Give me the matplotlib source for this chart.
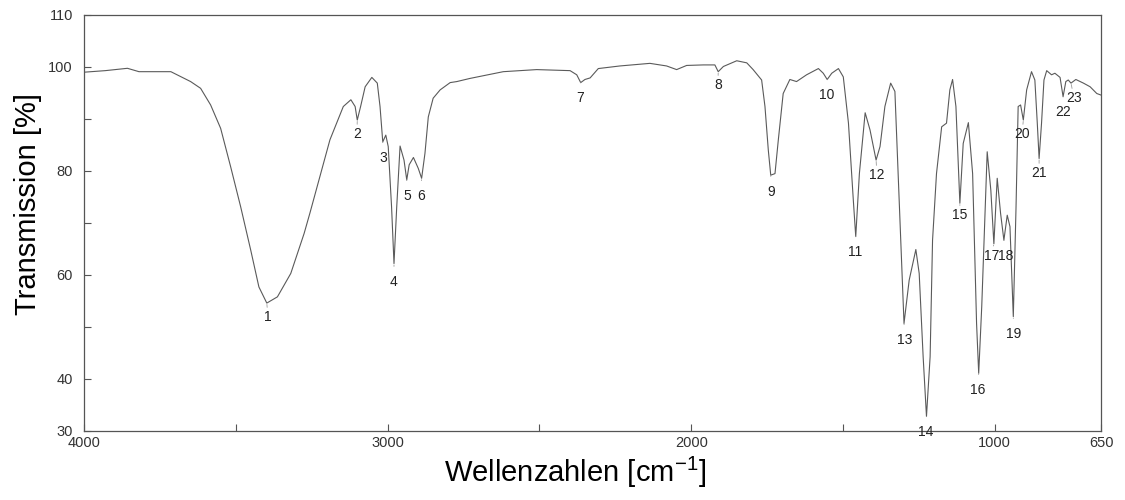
import numpy as np
import matplotlib
matplotlib.use('Agg')
import matplotlib.pyplot as plt

# IR spectrum (wavenumber in cm-1, transmission in %)
wavenumber = [4000, 3930, 3857, 3819, 3714, 3649, 3616, 3583, 3550, 3517,
              3484, 3451, 3424, 3398, 3363, 3319, 3275, 3256, 3232, 3190,
              3146, 3121, 3107, 3100, 3089, 3074, 3052, 3034, 3025, 3016,
              3006, 2998, 2987, 2979, 2970, 2959, 2946, 2937, 2929, 2915,
              2899, 2888, 2877, 2866, 2850, 2827, 2794, 2772, 2729, 2619,
              2509, 2399, 2377, 2364, 2350, 2333, 2306, 2235, 2136, 2081,
              2048, 2015, 1960, 1922, 1911, 1894, 1850, 1817, 1796, 1768,
              1757, 1746, 1738, 1724, 1713, 1697, 1675, 1653, 1620, 1581,
              1565, 1552, 1537, 1515, 1499, 1482, 1466, 1458, 1446, 1427,
              1411, 1391, 1378, 1362, 1343, 1329, 1312, 1299, 1282, 1260,
              1249, 1236, 1225, 1213, 1205, 1192, 1175, 1159, 1148, 1139,
              1128, 1115, 1104, 1087, 1073, 1060, 1053, 1043, 1025, 1013,
              1003, 992, 981, 970, 959, 950, 939, 930, 923, 915,
              906, 895, 879, 868, 860, 854, 846, 838, 829, 813,
              802, 785, 775, 766, 758, 749, 733, 708, 686, 664, 650]
transmission = [99.0, 99.3, 99.75, 99.1, 99.1, 97.2, 95.9, 92.7, 88.2, 80.8,
                73.1, 64.8, 57.7, 54.6, 55.8, 60.3, 68.0, 71.9, 77.0, 86.0,
                92.4, 93.7, 92.4, 89.8, 92.4, 96.2, 98.0, 96.9, 92.4, 85.6,
                86.9, 84.7, 73.1, 62.2, 73.1, 84.8, 82.1, 78.3, 81.2, 82.6,
                80.5, 78.6, 83.4, 90.4, 94.0, 95.6, 97.0, 97.2, 97.8, 99.1,
                99.5, 99.3, 98.5, 97.0, 97.6, 97.9, 99.7, 100.2, 100.7, 100.2,
                99.5, 100.3, 100.4, 100.4, 99.1, 100.1, 101.2, 100.8, 99.5, 97.5,
                92.4, 84.0, 79.2, 79.5, 86.0, 94.9, 97.6, 97.2, 98.5, 99.7,
                98.8, 97.6, 98.8, 99.7, 98.1, 89.2, 74.4, 67.4, 79.5, 91.2,
                87.9, 82.1, 84.7, 92.4, 96.9, 95.3, 70.0, 50.7, 59.0, 64.9,
                60.3, 44.3, 32.8, 44.3, 66.7, 79.5, 88.5, 89.2, 95.6, 97.6,
                92.4, 73.8, 85.3, 89.3, 79.5, 50.7, 41.1, 53.9, 83.7, 76.3,
                66.0, 78.6, 71.9, 66.7, 71.5, 69.3, 52.0, 73.1, 92.4, 92.7,
                89.8, 95.6, 99.1, 97.5, 89.2, 82.4, 89.2, 97.5, 99.3, 98.5,
                98.8, 98.0, 94.3, 97.2, 97.5, 96.9, 97.6, 96.9, 96.2, 94.9, 94.6]

# Numbered bands: minimum of each band and where its number is written
peak_numbers = [str(i) for i in range(1, 24)]
peak_wn = [3398, 3100, 3016, 2979, 2937, 2888, 2364, 1911, 1738, 1552, 1458, 1391,
           1299, 1225, 1115, 1053, 1003, 970, 939, 906, 854, 775, 749]
peak_t = [54.6, 89.8, 85.6, 62.2, 78.3, 78.6, 97.0, 99.1, 79.2, 97.6, 67.4, 82.1,
          50.7, 32.8, 73.8, 41.1, 66.0, 66.7, 52.0, 89.8, 82.4, 94.3, 96.9]
label_wn = [3394, 3101, 3015, 2979, 2936, 2890, 2366, 1912, 1737, 1553, 1460, 1388,
            1296, 1227, 1115, 1055, 1010, 963, 938, 910, 854, 775, 739]
label_t = [51.9, 87.1, 82.5, 58.7, 75.2, 75.2, 94.0, 96.5, 76.0, 94.6, 64.4, 79.2,
           47.5, 29.8, 71.5, 37.9, 63.7, 63.7, 48.7, 87.1, 79.6, 91.3, 94.0]

x_major = [4000, 3000, 2000, 1000, 650]
x_minor = [3500, 2500, 1500]
y_major = [30, 40, 60, 80, 100, 110]
y_minor = [50, 70, 90]


def main():
    plt.rcParams['font.family'] = ['Liberation Sans', 'DejaVu Sans']
    plt.rcParams['mathtext.fontset'] = 'custom'
    plt.rcParams['mathtext.rm'] = 'Liberation Sans'

    fig = plt.figure(figsize=(11.25, 5.0), dpi=100)
    ax = fig.add_axes([0.0747, 0.138, 0.904, 0.832])

    ax.plot(wavenumber, transmission, color='#5a5a5a', linewidth=0.8)

    # Band numbers with a short leader line down from each minimum
    for name, px, py, lx, ly in zip(peak_numbers, peak_wn, peak_t, label_wn, label_t):
        ax.annotate(name, xy=(px, py), xytext=(lx, ly), ha='center', va='center',
                    fontsize=10, color='#222222', annotation_clip=False,
                    arrowprops=dict(arrowstyle='-', color='#9a9a9a', lw=0.6,
                                    shrinkA=4, shrinkB=1))

    ax.set_xlim(4000, 650)
    ax.set_ylim(30, 110)
    ax.set_xticks(x_major)
    ax.set_xticks(x_minor, minor=True)
    ax.set_yticks(y_major)
    ax.set_yticks(y_minor, minor=True)
    ax.tick_params(which='both', direction='in', length=5, width=0.8,
                   color='#555555', labelsize=10.5, labelcolor='#333333')
    ax.tick_params(axis='y', pad=8)
    for spine in ax.spines.values():
        spine.set_color('#555555')
        spine.set_linewidth(0.9)

    ax.set_xlabel(r'Wellenzahlen [cm$^{\mathrm{-1}}$]', fontsize=21)
    ax.set_ylabel('Transmission [%]', fontsize=21)
    # the scan has both titles a little off the axes centre
    ax.xaxis.set_label_coords(0.483, -0.058)
    ax.yaxis.set_label_coords(-0.041, 0.545)

    fig.savefig('out.png', dpi=100)


if __name__ == "__main__":
    main()
